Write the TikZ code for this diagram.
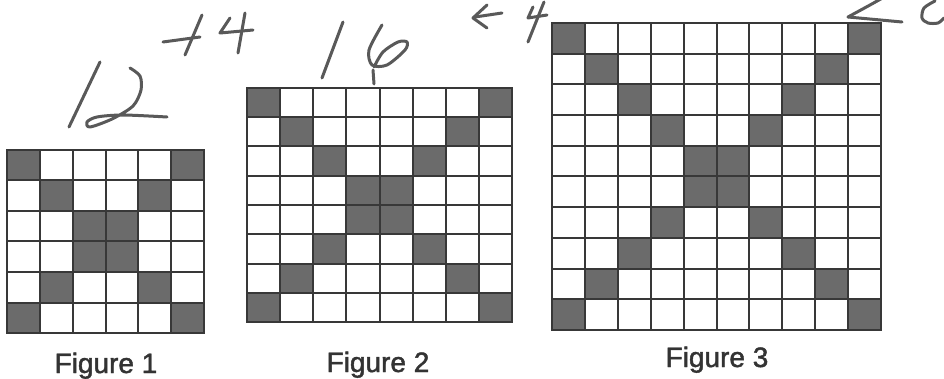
\documentclass[tikz,border=0pt]{standalone}
\usepackage{fontspec}
\setmainfont{Liberation Sans}
\newfontfamily\labfont[FakeBold=1.6]{Liberation Sans}
\tikzset{
  cellfill/.style={fill=black!58},
  gridline/.style={draw=black!78, line width=2pt},
  gridframe/.style={draw=black!78, line width=2.6pt},
  hand/.style={draw=black!65, line width=3pt, line cap=round, line join=round},
  figlabel/.style={font=\labfont\fontsize{28}{30}\selectfont, text=black!80, anchor=base, inner sep=0pt}
}
\newcommand{\figgrid}[5]{%
  \pgfmathsetmacro{\gcw}{(#4-#2)/#1}%
  \pgfmathsetmacro{\gch}{(#5-#3)/#1}%
  \pgfmathtruncatemacro{\gnm}{#1-1}%
  \foreach \i in {0,...,\gnm}{%
    \pgfmathsetmacro{\jj}{\gnm-\i}%
    \fill[cellfill] ({#2+\i*\gcw},{#3+\i*\gch}) rectangle ++(\gcw,\gch);
    \fill[cellfill] ({#2+\jj*\gcw},{#3+\i*\gch}) rectangle ++(\gcw,\gch);
  }%
  \foreach \i in {1,...,\gnm}{%
    \draw[gridline] ({#2+\i*\gcw},#3) -- ({#2+\i*\gcw},#5);
    \draw[gridline] (#2,{#3+\i*\gch}) -- (#4,{#3+\i*\gch});
  }%
  \draw[gridframe] (#2,#3) rectangle (#4,#5);
}
\begin{document}
\begin{tikzpicture}[x=1pt,y=-1pt]
\useasboundingbox[fill=white] (0,0) rectangle (944,379);
% grids
\figgrid{6}{7}{150}{204}{333}
\figgrid{8}{247}{88}{512}{322}
\figgrid{10}{552}{23}{881}{330}
% labels
\node[figlabel] (f1) at (106,373) {Figure 1};
\node[figlabel] (f2) at (378,372) {Figure 2};
\node[figlabel] (f3) at (717,367) {Figure 3};
% handwriting "12"
\draw[hand] (100,62) -- (69,127);
\draw[hand] plot[smooth] coordinates {(130,68) (140,76) (141,90) (133,106) (112,119) (90,127) (87,122) (97,117) (123,115) (167,117)};
% "+4"
\draw[hand] (163,42) -- (200,37);
\draw[hand] (202,15) -- (185,55);
\draw[hand] (230,18) -- (220,33) -- (253,30);
\draw[hand] (245,13) -- (238,53);
% "16"
\draw[hand] (343,22) -- (322,78);
\draw[hand] plot[smooth] coordinates {(382,25) (369,50) (372,65) (387,65) (405,50) (407,42) (398,42) (383,52) (374,67)};
\draw[hand] (373,70) -- (374,84);
% "+4"
\draw[hand] (487,5) -- (473,18) -- (487,28);
\draw[hand] (475,17) -- (502,13);
\draw[hand] (533,7) -- (528,18) -- (547,15);
\draw[hand] (544,2) -- (528,42);
% "20"
\draw[hand] plot[smooth] coordinates {(886,-4) (870,5) (848,17)};
\draw[hand] (848,17) -- (902,22);
\draw[hand] plot[smooth] coordinates {(935,1) (924,8) (922,18) (928,23) (938,23) (944,18)};
\end{tikzpicture}
\end{document}
